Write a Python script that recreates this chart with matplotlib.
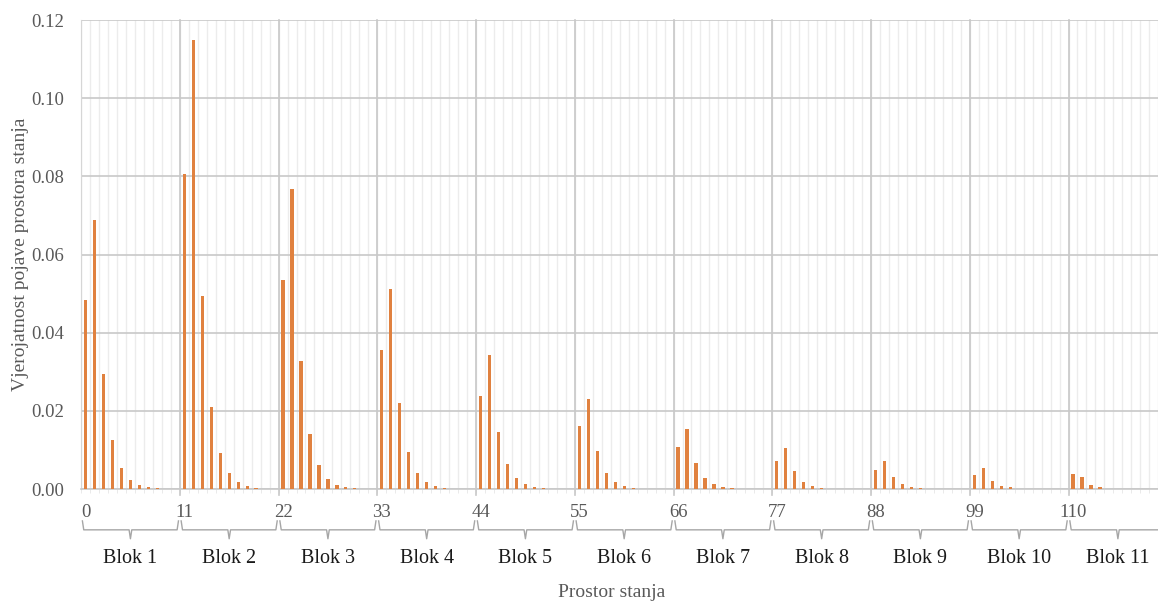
import matplotlib

matplotlib.use("Agg")
import matplotlib.pyplot as plt
import numpy as np

plt.rcParams["font.family"] = ["Liberation Serif", "DejaVu Serif"]

# probabilities per block, 11 states each
blok_1 = [0.0483, 0.0689, 0.0295, 0.0126, 0.0054, 0.0023, 0.0011, 0.0005, 0.0002, 0.0001, 0.0]
blok_2 = [0.0805, 0.1149, 0.0493, 0.0211, 0.0091, 0.0040, 0.0017, 0.0008, 0.0003, 0.0001, 0.0]
blok_3 = [0.0536, 0.0767, 0.0328, 0.0141, 0.0061, 0.0026, 0.0011, 0.0005, 0.0002, 0.0001, 0.0]
blok_4 = [0.0357, 0.0512, 0.0221, 0.0095, 0.0041, 0.0018, 0.0008, 0.0003, 0.0001, 0.0, 0.0]
blok_5 = [0.0239, 0.0342, 0.0147, 0.0064, 0.0027, 0.0012, 0.0005, 0.0002, 0.0001, 0.0, 0.0]
blok_6 = [0.0160, 0.0230, 0.0098, 0.0042, 0.0018, 0.0008, 0.0003, 0.0001, 0.0, 0.0, 0.0]
blok_7 = [0.0107, 0.0154, 0.0066, 0.0028, 0.0012, 0.0005, 0.0002, 0.0001, 0.0, 0.0, 0.0]
blok_8 = [0.0072, 0.0104, 0.0045, 0.0018, 0.0007, 0.0003, 0.0001, 0.0, 0.0, 0.0, 0.0]
blok_9 = [0.0049, 0.0073, 0.0031, 0.0013, 0.0005, 0.0002, 0.0001, 0.0, 0.0, 0.0, 0.0]
blok_10 = [0.0036, 0.0054, 0.0020, 0.0008, 0.0004, 0.0001, 0.0, 0.0, 0.0, 0.0, 0.0]
blok_11 = [0.0038, 0.0030, 0.0010, 0.0004, 0.0001, 0.0, 0.0, 0.0, 0.0, 0.0, 0.0]

blocks = [blok_1, blok_2, blok_3, blok_4, blok_5, blok_6,
          blok_7, blok_8, blok_9, blok_10, blok_11]
block_labels = ["Blok %d" % (i + 1) for i in range(len(blocks))]
block_size = 11

values = np.concatenate(blocks)
states = np.arange(len(values))

fig = plt.figure(figsize=(11.58, 6.03), dpi=100)
# right edge runs past the figure: the reference is cropped there
ax = fig.add_axes([0.0700, 0.189, 0.938, 0.7778])

ax.bar(states, values, width=0.36, color="#E0813F", zorder=3)

ax.set_xlim(-0.5, len(values) - 0.5)
ax.set_ylim(0, 0.12)
yticks = np.arange(0, 0.121, 0.02)
ax.set_yticks(yticks)
ax.set_yticklabels(["%.2f" % v for v in yticks])

# labels under the first state of each block
ax.set_xticks(states[::block_size])
ax.set_xticks(np.arange(-0.5, len(values), 1), minor=True)
ax.tick_params(axis="x", which="major", length=0, pad=11, labelsize=13.5,
               labelcolor="#595959")
ax.tick_params(axis="x", which="minor", length=3, color="#e6e6e6")
ax.tick_params(axis="y", length=0, pad=12, labelsize=13.5, labelcolor="#595959")

ax.grid(axis="y", color="#c8c8c8", lw=1.2, zorder=0)
ax.grid(axis="x", which="minor", color="#ececec", lw=1.0, zorder=0)
trans = ax.get_xaxis_transform()
for b in range(1, len(blocks) + 1):
    x = b * block_size - 0.5
    ax.plot([x, x], [1, -0.012], color="#c8c8c8", lw=1.2, transform=trans,
            clip_on=False, zorder=1)

for side in ["top", "right"]:
    ax.spines[side].set_visible(False)
ax.spines["left"].set_color("#d6d6d6")
ax.spines["bottom"].set_color("#c8c8c8")
ax.spines["bottom"].set_linewidth(1.2)
ax.set_axisbelow(True)

# braces under each block
y_top, y_mid, y_low = -0.068, -0.087, -0.106
for i, lab in enumerate(block_labels):
    a = i * block_size - 0.5 + 0.15
    b = (i + 1) * block_size - 0.5 - 0.15
    c = (a + b) / 2
    xs = [a, a + 0.15, c - 0.15, c, c + 0.15, b - 0.15, b]
    ys = [y_top, y_mid, y_mid, y_low, y_mid, y_mid, y_top]
    ax.plot(xs, ys, color="#a6a6a6", lw=1.0, transform=trans, clip_on=False)
    ax.text(c, -0.148, lab, transform=trans, ha="center", va="center",
            fontsize=14.5, color="#1a1a1a")

ax.set_ylabel("Vjerojatnost pojave prostora stanja", fontsize=14, color="#595959",
              labelpad=2)
fig.text(0.5285, 0.018, "Prostor stanja", ha="center", va="center", fontsize=14,
         color="#595959")

fig.savefig("out.png", dpi=100)
